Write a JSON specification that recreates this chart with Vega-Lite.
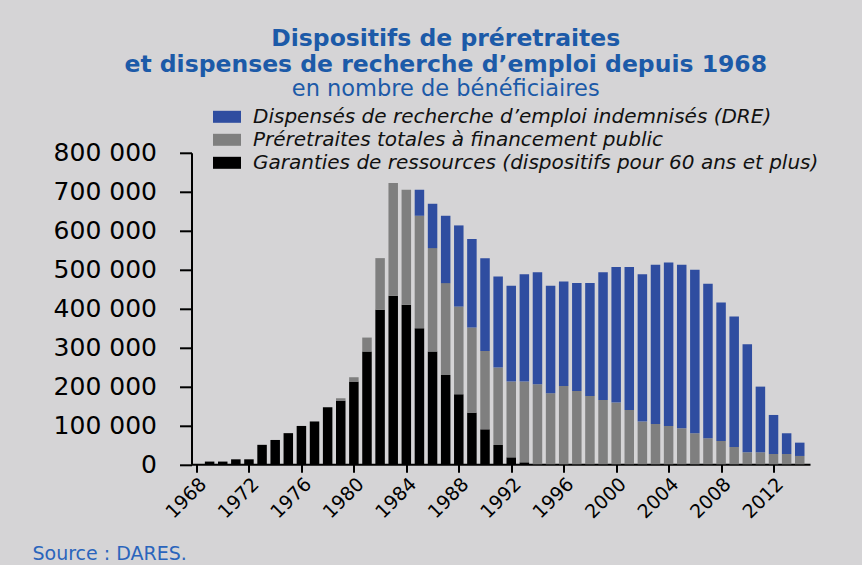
{
  "$schema": "https://vega.github.io/schema/vega-lite/v6.json",
  "autosize": {"type": "none"},
  "width": 618.5,
  "height": 311.5,
  "padding": {"left": 191.5, "top": 152.8, "right": 52, "bottom": 100.7},
  "background": "#d5d4d6",
  "title": {
    "text": ["Dispositifs de préretraites", "et dispenses de recherche d’emploi depuis 1968"],
    "subtitle": "en nombre de bénéficiaires",
    "anchor": "middle",
    "frame": "group",
    "dx": -55,
    "offset": 6,
    "font": "DejaVu Sans",
    "fontSize": 23.5,
    "fontWeight": "bold",
    "color": "#1c5aa8",
    "lineHeight": 25.5,
    "subtitleFont": "DejaVu Sans",
    "subtitleFontSize": 22.5,
    "subtitleColor": "#1c5aa8",
    "subtitleLineHeight": 23,
    "subtitlePadding": 2
  },
  "data": {
    "values": [
      {"year": 1969, "garanties": 7000, "preretraites": 0, "dre": 0},
      {"year": 1970, "garanties": 7000, "preretraites": 0, "dre": 0},
      {"year": 1971, "garanties": 12800, "preretraites": 0, "dre": 0},
      {"year": 1972, "garanties": 12800, "preretraites": 0, "dre": 0},
      {"year": 1973, "garanties": 50000, "preretraites": 0, "dre": 0},
      {"year": 1974, "garanties": 62500, "preretraites": 0, "dre": 0},
      {"year": 1975, "garanties": 80000, "preretraites": 0, "dre": 0},
      {"year": 1976, "garanties": 98500, "preretraites": 0, "dre": 0},
      {"year": 1977, "garanties": 110000, "preretraites": 0, "dre": 0},
      {"year": 1978, "garanties": 146500, "preretraites": 0, "dre": 0},
      {"year": 1979, "garanties": 163600, "preretraites": 6000, "dre": 0},
      {"year": 1980, "garanties": 212400, "preretraites": 11200, "dre": 0},
      {"year": 1981, "garanties": 289500, "preretraites": 36000, "dre": 0},
      {"year": 1982, "garanties": 396700, "preretraites": 132800, "dre": 0},
      {"year": 1983, "garanties": 432700, "preretraites": 289600, "dre": 0},
      {"year": 1984, "garanties": 409500, "preretraites": 295600, "dre": 0},
      {"year": 1985, "garanties": 349600, "preretraites": 288700, "dre": 66800},
      {"year": 1986, "garanties": 289500, "preretraites": 265700, "dre": 113900},
      {"year": 1987, "garanties": 229600, "preretraites": 235700, "dre": 173000},
      {"year": 1988, "garanties": 179900, "preretraites": 225200, "dre": 208400},
      {"year": 1989, "garanties": 132700, "preretraites": 218500, "dre": 227200},
      {"year": 1990, "garanties": 89900, "preretraites": 201400, "dre": 238200},
      {"year": 1991, "garanties": 49600, "preretraites": 198800, "dre": 233900},
      {"year": 1992, "garanties": 17900, "preretraites": 194500, "dre": 245900},
      {"year": 1993, "garanties": 5100, "preretraites": 207300, "dre": 275900},
      {"year": 1994, "garanties": 0, "preretraites": 205600, "dre": 287900},
      {"year": 1995, "garanties": 0, "preretraites": 182500, "dre": 275800},
      {"year": 1996, "garanties": 0, "preretraites": 201300, "dre": 268100},
      {"year": 1997, "garanties": 0, "preretraites": 188400, "dre": 276900},
      {"year": 1998, "garanties": 0, "preretraites": 175600, "dre": 289700},
      {"year": 1999, "garanties": 0, "preretraites": 165300, "dre": 328200},
      {"year": 2000, "garanties": 0, "preretraites": 158400, "dre": 348000},
      {"year": 2001, "garanties": 0, "preretraites": 139600, "dre": 366800},
      {"year": 2002, "garanties": 0, "preretraites": 109600, "dre": 378700},
      {"year": 2003, "garanties": 0, "preretraites": 103600, "dre": 408700},
      {"year": 2004, "garanties": 0, "preretraites": 98500, "dre": 419800},
      {"year": 2005, "garanties": 0, "preretraites": 92500, "dre": 419800},
      {"year": 2006, "garanties": 0, "preretraites": 79700, "dre": 419800},
      {"year": 2007, "garanties": 0, "preretraites": 66800, "dre": 396700},
      {"year": 2008, "garanties": 0, "preretraites": 59900, "dre": 355600},
      {"year": 2009, "garanties": 0, "preretraites": 44600, "dre": 334900},
      {"year": 2010, "garanties": 0, "preretraites": 30800, "dre": 277600},
      {"year": 2011, "garanties": 0, "preretraites": 30800, "dre": 168700},
      {"year": 2012, "garanties": 0, "preretraites": 26500, "dre": 100200},
      {"year": 2013, "garanties": 0, "preretraites": 26500, "dre": 53200},
      {"year": 2014, "garanties": 0, "preretraites": 21400, "dre": 34200}
    ]
  },
  "transform": [
    {"fold": ["garanties", "preretraites", "dre"], "as": ["series", "value"]},
    {"calculate": "indexof(['garanties','preretraites','dre'], datum.series)", "as": "stackrank"}
  ],
  "mark": {"type": "bar", "size": 9.5},
  "encoding": {
    "x": {
      "field": "year",
      "type": "quantitative",
      "scale": {"domain": [1968, 2014.4], "nice": false, "zero": false},
      "axis": {
        "values": [1968, 1972, 1976, 1980, 1984, 1988, 1992, 1996, 2000, 2004, 2008, 2012],
        "format": "d",
        "labelAngle": -45,
        "labelFont": "DejaVu Sans",
        "labelFontSize": 19,
        "labelColor": "#000000",
        "labelPadding": 2,
        "tickSize": 8,
        "tickWidth": 2,
        "domainWidth": 2,
        "domainColor": "#000000",
        "tickColor": "#000000",
        "grid": false,
        "title": "Source : DARES.",
        "titleAnchor": "start",
        "titleAlign": "left",
        "titleX": -159.5,
        "titleY": 95,
        "titleBaseline": "alphabetic",
        "titleFont": "DejaVu Sans",
        "titleFontSize": 19,
        "titleFontWeight": "normal",
        "titleColor": "#2a64bc"
      }
    },
    "y": {
      "field": "value",
      "type": "quantitative",
      "stack": "zero",
      "scale": {"domain": [0, 800000], "nice": false},
      "axis": {
        "values": [0, 100000, 200000, 300000, 400000, 500000, 600000, 700000, 800000],
        "labelExpr": "replace(format(datum.value, ','), ',', ' ')",
        "labelFont": "DejaVu Sans",
        "labelFontSize": 25,
        "labelColor": "#000000",
        "labelPadding": 23,
        "tickSize": 12,
        "tickWidth": 2,
        "domainWidth": 2,
        "domainColor": "#000000",
        "tickColor": "#000000",
        "grid": false,
        "title": null
      }
    },
    "color": {
      "field": "series",
      "type": "nominal",
      "scale": {
        "domain": ["dre", "preretraites", "garanties"],
        "range": ["#2f4da0", "#7f7f7f", "#000000"]
      },
      "legend": {
        "orient": "none",
        "legendX": 25.5,
        "legendY": -46,
        "title": null,
        "padding": 0,
        "symbolType": "M-1.4,-0.6H1.4V0.6H-1.4Z",
        "symbolSize": 400,
        "symbolStrokeWidth": 0,
        "symbolOpacity": 1,
        "labelFont": "DejaVu Sans",
        "labelFontStyle": "italic",
        "labelFontSize": 20,
        "labelColor": "#111111",
        "labelOffset": 16,
        "labelLimit": 900,
        "rowPadding": 3,
        "labelExpr": "datum.label == 'dre' ? 'Dispensés de recherche d’emploi indemnisés (DRE)' : datum.label == 'preretraites' ? 'Préretraites totales à financement public' : 'Garanties de ressources (dispositifs pour 60 ans et plus)'"
      }
    },
    "order": {"field": "stackrank", "type": "quantitative", "sort": "ascending"}
  },
  "config": {
    "view": {"stroke": null}
  }
}
